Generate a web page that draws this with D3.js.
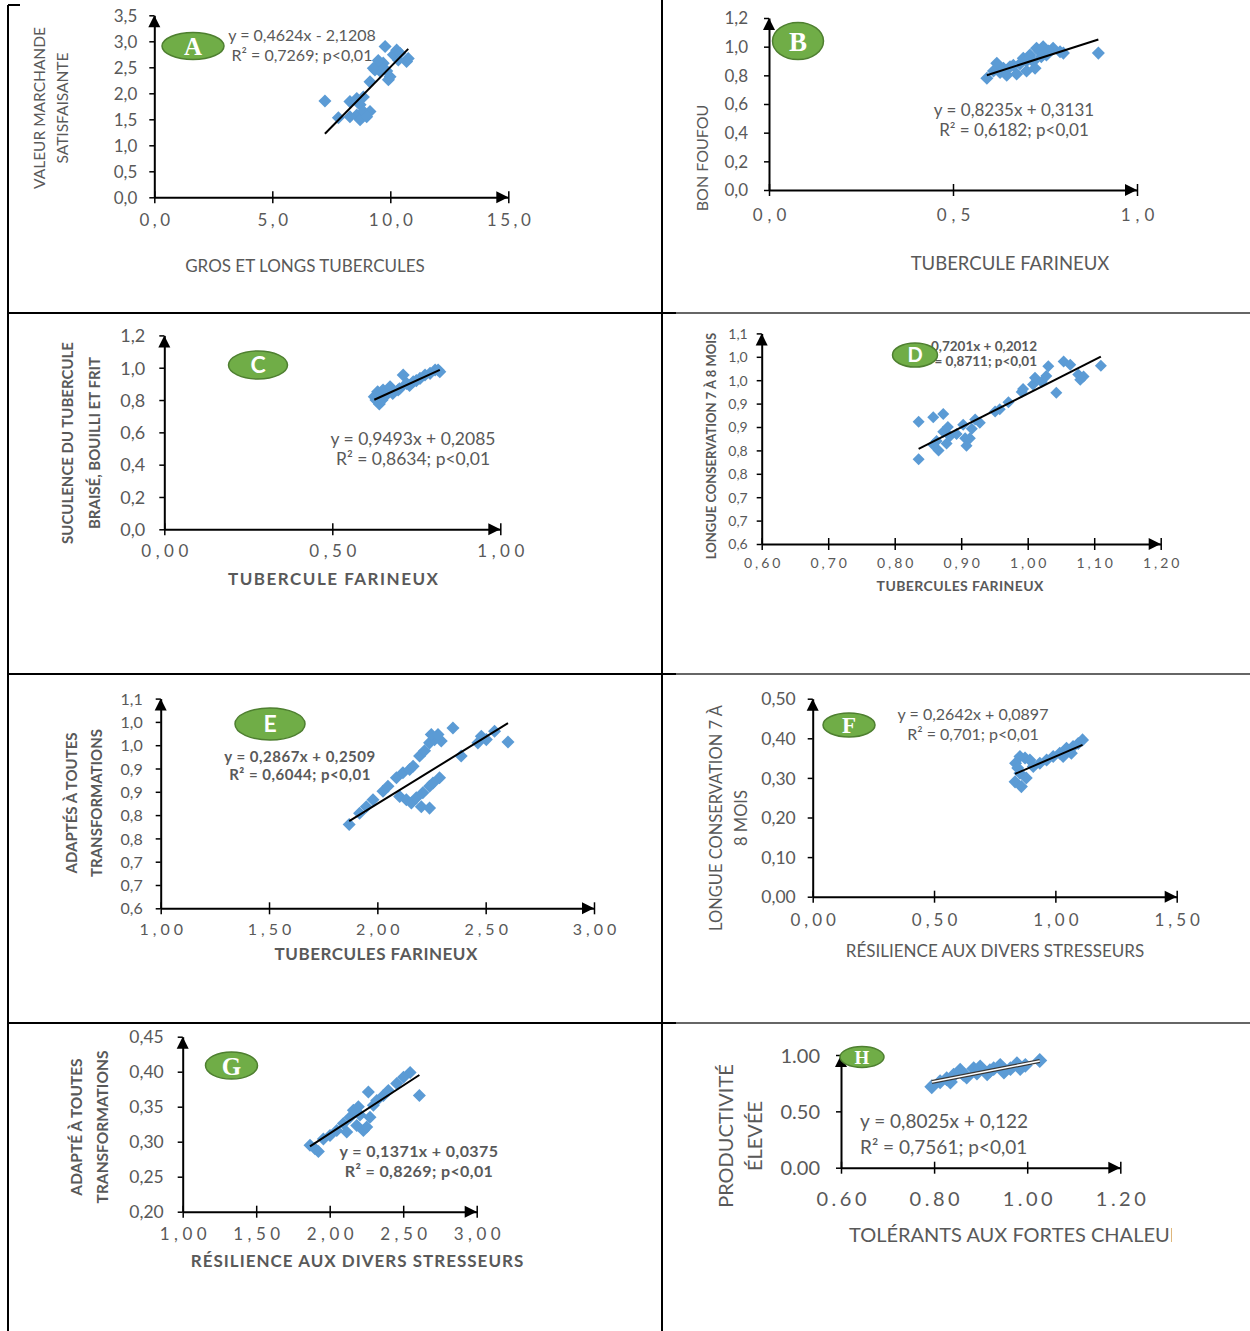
<!DOCTYPE html>
<html><head><meta charset="utf-8">
<script src="https://cdn.jsdelivr.net/npm/d3@7"></script>
<style>body{margin:0;background:#fff}svg{display:block}</style>
</head><body>
<svg id="fig" width="1250" height="1331"></svg>
<script>
// ---------- data: scatter points per panel ----------
const aX=[7.23,7.80,8.29,8.58,8.72,8.86,8.58,8.72,8.86,9.14,9.00,8.29,9.14,9.35,9.42,9.56,9.70,9.78,9.92,9.99,10.13,10.27,10.34,10.41,10.69,10.76,9.49,9.28,9.85];
const aY=[1.85,1.53,1.84,1.90,1.78,1.93,1.58,1.49,1.65,1.65,1.55,1.55,2.22,2.45,2.51,2.43,2.58,2.90,2.26,2.32,2.74,2.83,2.64,2.77,2.61,2.67,2.63,2.48,2.43];
const bX=[0.592,0.619,0.610,0.637,0.655,0.673,0.682,0.691,0.700,0.709,0.718,0.723,0.727,0.736,0.745,0.754,0.772,0.791,0.800,0.895,0.628,0.646,0.664,0.700,0.740,0.760];
const bY=[0.779,0.884,0.830,0.850,0.860,0.810,0.880,0.919,0.830,0.942,0.896,0.850,0.989,0.966,1.000,0.942,0.989,0.965,0.955,0.955,0.820,0.800,0.870,0.900,0.930,0.970];
const cX=[0.625,0.640,0.635,0.651,0.672,0.680,0.696,0.711,0.721,0.741,0.761,0.776,0.791,0.806,0.815,0.820,0.630,0.660,0.700,0.730,0.750,0.648];
const cY=[0.821,0.775,0.851,0.862,0.882,0.840,0.862,0.955,0.903,0.913,0.934,0.955,0.965,0.986,0.986,0.975,0.800,0.830,0.870,0.890,0.920,0.800];
const dX=[0.836,0.836,0.858,0.873,0.858,0.866,0.863,0.873,0.880,0.883,0.878,0.893,0.903,0.906,0.908,0.913,0.916,0.921,0.928,0.951,0.958,0.971,0.991,0.993,1.008,1.011,1.021,1.028,1.031,1.043,1.054,1.064,1.076,1.079,1.084,1.110];
const dY=[0.861,0.781,0.871,0.878,0.812,0.800,0.820,0.840,0.850,0.830,0.815,0.835,0.855,0.826,0.810,0.826,0.846,0.866,0.859,0.883,0.888,0.903,0.925,0.931,0.941,0.955,0.946,0.959,0.980,0.923,0.990,0.983,0.962,0.951,0.958,0.981];
const eX=[1.870,1.918,1.949,1.980,2.026,2.049,2.088,2.118,2.149,2.165,2.103,2.134,2.157,2.180,2.203,2.241,2.210,2.241,2.257,2.287,2.195,2.218,2.241,2.264,2.295,2.249,2.280,2.349,2.387,2.464,2.480,2.503,2.541,2.603];
const eY=[0.780,0.804,0.818,0.833,0.851,0.862,0.880,0.891,0.898,0.905,0.840,0.833,0.826,0.837,0.818,0.815,0.848,0.862,0.869,0.880,0.927,0.938,0.955,0.962,0.959,0.973,0.973,0.987,0.927,0.955,0.969,0.962,0.980,0.957];
const fX=[0.834,0.836,0.854,0.875,0.895,0.860,0.854,0.909,0.936,0.964,0.991,1.018,1.046,1.073,1.094,1.112,1.066,1.032,0.845,0.880];
const fY=[0.290,0.337,0.354,0.350,0.345,0.278,0.312,0.329,0.337,0.345,0.354,0.362,0.375,0.379,0.387,0.396,0.362,0.354,0.325,0.300];
const gX=[1.866,1.923,1.900,1.957,2.002,2.048,2.093,2.116,2.138,2.161,2.195,2.206,2.229,2.252,2.263,2.297,2.320,2.365,2.399,2.456,2.502,2.547,2.610,2.184,2.274];
const gY=[0.295,0.286,0.290,0.304,0.309,0.316,0.326,0.314,0.335,0.345,0.350,0.338,0.316,0.321,0.371,0.352,0.359,0.366,0.373,0.383,0.392,0.399,0.366,0.323,0.335];
const hX=[0.795,0.813,0.827,0.842,0.856,0.870,0.885,0.899,0.914,0.928,0.942,0.964,0.978,0.996,1.027,0.835,0.863,0.892,0.920,0.950,0.985];
const hY=[0.719,0.763,0.790,0.820,0.864,0.805,0.879,0.893,0.834,0.879,0.908,0.879,0.923,0.908,0.952,0.760,0.830,0.840,0.860,0.850,0.880];

// ---------- fitted lines (slope, intercept) and their labels ----------
const aFit=[0.4624,-2.1208], aEq=["y = 0,4624x - 2,1208","R² = 0,7269; p<0,01"];
const bFit=[0.8235,0.3131],  bEq=["y = 0,8235x + 0,3131","R² = 0,6182; p<0,01"];
const cFit=[0.9493,0.2085],  cEq=["y = 0,9493x + 0,2085","R² = 0,8634; p<0,01"];
const dFit=[0.7201,0.2012],  dEq=["y = 0,7201x + 0,2012","R² = 0,8711; p<0,01"];
const eFit=[0.2867,0.2509],  eEq=["y = 0,2867x + 0,2509","R² = 0,6044; p<0,01"];
const fFit=[0.2642,0.0897],  fEq=["y = 0,2642x + 0,0897","R² = 0,701; p<0,01"];
const gFit=[0.1371,0.0375],  gEq=["y = 0,1371x + 0,0375","R² = 0,8269; p<0,01"];
const hFit=[0.8025,0.122],   hEq=["y = 0,8025x + 0,122","R² = 0,7561; p<0,01"];

// ---------- ticks ----------
const aXTicks=[0,5,10,15], aXLab=["0,0","5,0","10,0","15,0"];
const aYTicks=[0,0.5,1,1.5,2,2.5,3,3.5], aYLab=["0,0","0,5","1,0","1,5","2,0","2,5","3,0","3,5"];
const bXTicks=[0,0.5,1], bXLab=["0,0","0,5","1,0"];
const bYTicks=[0,0.2,0.4,0.6,0.8,1,1.2], bYLab=["0,0","0,2","0,4","0,6","0,8","1,0","1,2"];
const cXTicks=[0,0.5,1], cXLab=["0,00","0,50","1,00"];
const cYTicks=[0,0.2,0.4,0.6,0.8,1,1.2], cYLab=["0,0","0,2","0,4","0,6","0,8","1,0","1,2"];
const dXTicks=[0.6,0.7,0.8,0.9,1.0,1.1,1.2], dXLab=["0,60","0,70","0,80","0,90","1,00","1,10","1,20"];
const dYTicks=[0.60,0.65,0.70,0.75,0.80,0.85,0.90,0.95,1.00,1.05], dYLab=["0,6","0,7","0,7","0,8","0,8","0,9","0,9","1,0","1,0","1,1"];
const eXTicks=[1,1.5,2,2.5,3], eXLab=["1,00","1,50","2,00","2,50","3,00"];
const eYTicks=[0.60,0.65,0.70,0.75,0.80,0.85,0.90,0.95,1.00,1.05], eYLab=["0,6","0,7","0,7","0,8","0,8","0,9","0,9","1,0","1,0","1,1"];
const fXTicks=[0,0.5,1,1.5], fXLab=["0,00","0,50","1,00","1,50"];
const fYTicks=[0,0.1,0.2,0.3,0.4,0.5], fYLab=["0,00","0,10","0,20","0,30","0,40","0,50"];
const gXTicks=[1,1.5,2,2.5,3], gXLab=["1,00","1,50","2,00","2,50","3,00"];
const gYTicks=[0.2,0.25,0.3,0.35,0.4,0.45], gYLab=["0,20","0,25","0,30","0,35","0,40","0,45"];
const hXTicks=[0.6,0.8,1.0,1.2], hXLab=["0.60","0.80","1.00","1.20"];
const hYTicks=[0,0.5,1.0], hYLab=["0.00","0.50","1.00"];

// ---------- drawing ----------
const svg=d3.select("#fig");
const GRAY="#595959", BLUE="#5B9BD5", GREEN="#70AD47", GREEN_DARK="#4E7F30";
const SANS="Lato, 'Open Sans', sans-serif", SERIF="'Liberation Serif', 'DejaVu Serif', serif";

// table frame
const frame=svg.append("g").attr("stroke","#000").attr("stroke-width",2);
frame.append("line").attr("x1",8).attr("y1",5).attr("x2",8).attr("y2",1331);
frame.append("line").attr("x1",662).attr("y1",0).attr("x2",662).attr("y2",1331);
frame.append("line").attr("x1",8).attr("y1",5).attr("x2",20).attr("y2",5);
[313,674,1023].forEach(yy=>{
  frame.append("line").attr("x1",8).attr("y1",yy).attr("x2",676).attr("y2",yy);
  frame.append("line").attr("x1",676).attr("y1",yy).attr("x2",1250).attr("y2",yy).attr("stroke","#333").attr("stroke-width",1.5);
});

function panel(p){
  const g=svg.append("g");
  const x=d3.scaleLinear().domain(p.xDom).range(p.xRng);
  const y=d3.scaleLinear().domain(p.yDom).range(p.yRng);
  const y0=y(p.yDom[0]), x0=x(p.xDom[0]);

  // x axis with crossing ticks
  const xa=d3.axisBottom(x).tickValues(p.xT).tickFormat((d,i)=>p.xL[i]).tickSizeInner(6).tickSizeOuter(0);
  const gx=g.append("g").attr("transform",`translate(0,${y0})`).call(xa)
    .attr("font-family",SANS).attr("font-size",p.xFs);
  gx.select(".domain").attr("stroke","#000").attr("stroke-width",2);
  gx.selectAll(".tick line").attr("stroke","#000").attr("stroke-width",1.5).attr("y1",-6);
  gx.selectAll(".tick text").attr("y",p.xOff).attr("dy","0.35em").attr("fill",GRAY)
    .style("letter-spacing",p.xLs+"px").attr("dx",(p.xLs/2)+"px");
  const xe=x(p.xDom[1]);
  g.append("path").attr("d",`M${xe},${y0}L${xe-12},${y0-6}L${xe-12},${y0+6}Z`).attr("fill","#000");

  // y axis
  const ya=d3.axisLeft(y).tickValues(p.yT).tickFormat((d,i)=>p.yL[i]).tickSizeInner(5).tickSizeOuter(0);
  const gy=g.append("g").attr("transform",`translate(${x0},0)`).call(ya)
    .attr("font-family",SANS).attr("font-size",p.yFs);
  gy.select(".domain").attr("stroke","#000").attr("stroke-width",2);
  gy.selectAll(".tick line").attr("stroke","#000").attr("stroke-width",1.5);
  gy.selectAll(".tick text").attr("x",-p.yOff).attr("dy","0.35em").attr("fill",GRAY);
  const ye=y(p.yDom[1]);
  g.append("path").attr("d",`M${x0},${ye}L${x0-6},${ye+12}L${x0+6},${ye+12}Z`).attr("fill","#000");

  // points
  const sym=d3.symbol().type(d3.symbolSquare).size(p.sz);
  g.append("g").selectAll("path").data(p.xs.map((v,i)=>[v,p.ys[i]])).join("path")
    .attr("d",sym).attr("fill",BLUE)
    .attr("transform",d=>`translate(${x(d[0])},${y(d[1])}) rotate(45)`);

  // fitted line over the data range
  const [lo,hi]=d3.extent(p.xs);
  const ln=[[lo,p.fit[0]*lo+p.fit[1]],[hi,p.fit[0]*hi+p.fit[1]]];
  const lineGen=d3.line().x(d=>x(d[0])).y(d=>y(d[1]));
  if(p.dbl){
    g.append("path").attr("d",lineGen(ln)).attr("stroke","#3a3a3a").attr("stroke-width",4).attr("fill","none");
    g.append("path").attr("d",lineGen(ln)).attr("stroke","#fff").attr("stroke-width",1.6).attr("fill","none");
  } else {
    g.append("path").attr("d",lineGen(ln)).attr("stroke","#000").attr("stroke-width",2).attr("fill","none");
  }

  // equation label
  const eq=g.append("g").attr("font-family",SANS).attr("font-size",p.eqFs)
    .attr("font-weight",p.eqBold?"bold":"normal").attr("fill",GRAY).attr("text-anchor",p.eqAnchor||"middle")
    .style("letter-spacing",(p.eqLs||0)+"px");
  p.eq.forEach((t,i)=>eq.append("text").attr("x",p.eqX).attr("y",p.eqY[i]).text(t));

  // panel badge
  g.append("ellipse").attr("cx",p.bx).attr("cy",p.by).attr("rx",p.brx).attr("ry",p.bry)
    .attr("fill",GREEN).attr("stroke",GREEN_DARK).attr("stroke-width",1.5);
  g.append("text").attr("x",p.bx).attr("y",p.by).attr("dy","0.36em").attr("text-anchor","middle")
    .attr("font-family",p.bSerif?SERIF:SANS).attr("font-weight","bold").attr("font-size",p.bFs)
    .attr("fill","#fff").text(p.badge);

  // axis titles
  const tw=p.tBold?"bold":"normal";
  p.yTitle.forEach((t,i)=>{
    g.append("text").attr("transform",`translate(${p.ytX[i]},${p.ytY}) rotate(-90)`)
      .attr("dy","0.35em").attr("text-anchor","middle").attr("font-family",SANS)
      .attr("font-size",p.ytFs).attr("font-weight",tw).attr("fill",GRAY).text(t);
  });
  const ls=p.xtLs||0;
  const xt=g.append("text").attr("x",p.xtX).attr("y",p.xtY).attr("dy","0.35em")
    .attr("dx",p.xtAnchor?0:ls/2).style("letter-spacing",ls+"px")
    .attr("text-anchor",p.xtAnchor||"middle").attr("font-family",SANS)
    .attr("font-size",p.xtFs).attr("font-weight",tw).attr("fill",GRAY).text(p.xTitle);
  if(p.clipX){
    svg.append("clipPath").attr("id","clipH").append("rect").attr("x",680).attr("y",1024).attr("width",p.clipX-680).attr("height",307);
    xt.attr("clip-path","url(#clipH)");
  }
}

// A
panel({xs:aX,ys:aY,fit:aFit,eq:aEq,xDom:[0,15],xRng:[154.3,508.3],yDom:[0,3.5],yRng:[197.3,15.3],
  xT:aXTicks,xL:aXLab,yT:aYTicks,yL:aYLab,xFs:17,xLs:3.5,xOff:23,yFs:17,yOff:17,sz:85,
  eqFs:16,eqX:302,eqY:[41,61],badge:"A",bx:193,by:46,brx:31,bry:13.5,bSerif:true,bFs:25,
  yTitle:["VALEUR MARCHANDE","SATISFAISANTE"],ytX:[40,63],ytY:108,ytFs:15.5,
  xTitle:"GROS ET LONGS TUBERCULES",xtX:305,xtY:266,xtFs:17});
// B
panel({xs:bX,ys:bY,fit:bFit,eq:bEq,xDom:[0,1],xRng:[769,1137],yDom:[0,1.2],yRng:[190,18],
  xT:bXTicks,xL:bXLab,yT:bYTicks,yL:bYLab,xFs:17,xLs:5,xOff:25,yFs:17,yOff:21,sz:85,
  eqFs:17,eqX:1014,eqY:[116,136],badge:"B",bx:798,by:41,brx:25.5,bry:18.5,bSerif:true,bFs:27,
  yTitle:["BON FOUFOU"],ytX:[702],ytY:158,ytFs:16,
  xTitle:"TUBERCULE FARINEUX",xtX:1010,xtY:264,xtFs:18.5});
// C
panel({xs:cX,ys:cY,fit:cFit,eq:cEq,xDom:[0,1],xRng:[164.3,500.3],yDom:[0,1.2],yRng:[529.3,335.4],
  xT:cXTicks,xL:cXLab,yT:cYTicks,yL:cYLab,xFs:17,xLs:4.5,xOff:22,yFs:18,yOff:19,sz:85,
  eqFs:17.5,eqX:413,eqY:[445,465],badge:"C",bx:258,by:365,brx:29.5,bry:14,bSerif:false,bFs:23,
  yTitle:["SUCULENCE  DU TUBERCULE","BRAISÉ, BOUILLI ET FRIT"],ytX:[68,95],ytY:443,ytFs:15,
  xTitle:"TUBERCULE FARINEUX",xtX:333,xtY:579,xtFs:17,xtLs:1.5,tBold:true});
// D
panel({xs:dX,ys:dY,fit:dFit,eq:dEq,xDom:[0.6,1.2],xRng:[761.7,1160.7],yDom:[0.6,1.05],yRng:[544,333.4],
  xT:dXTicks,xL:dXLab,yT:dYTicks,yL:dYLab,xFs:14,xLs:3,xOff:19,yFs:14,yOff:14,sz:72,
  eqFs:13.5,eqBold:true,eqAnchor:"end",eqX:1037,eqY:[351,366],badge:"D",bx:915,by:355,brx:22.5,bry:12,bSerif:false,bFs:20,
  yTitle:["LONGUE CONSERVATION 7 À 8 MOIS"],ytX:[711],ytY:446,ytFs:13,
  xTitle:"TUBERCULES FARINEUX",xtX:960,xtY:586,xtFs:14,xtLs:0.4,tBold:true});
// E
panel({xs:eX,ys:eY,fit:eFit,eq:eEq,xDom:[1,3],xRng:[160.7,594],yDom:[0.6,1.05],yRng:[908.3,698.6],
  xT:eXTicks,xL:eXLab,yT:eYTicks,yL:eYLab,xFs:16,xLs:4,xOff:21,yFs:16,yOff:18,sz:85,
  eqFs:15,eqLs:0.5,eqBold:true,eqX:300,eqY:[762,780],badge:"E",bx:270,by:724,brx:35,bry:16,bSerif:false,bFs:23,
  yTitle:["ADAPTÉS À TOUTES","TRANSFORMATIONS"],ytX:[72,97],ytY:803,ytFs:15,
  xTitle:"TUBERCULES FARINEUX",xtX:376,xtY:954,xtFs:17,xtLs:0.5,tBold:true});
// F
panel({xs:fX,ys:fY,fit:fFit,eq:fEq,xDom:[0,1.5],xRng:[812.7,1176.7],yDom:[0,0.5],yRng:[896.7,698.7],
  xT:fXTicks,xL:fXLab,yT:fYTicks,yL:fYLab,xFs:17,xLs:4,xOff:23,yFs:17.5,yOff:17,sz:85,
  eqFs:16,eqX:973,eqY:[720,740],badge:"F",bx:849,by:725,brx:26,bry:12,bSerif:true,bFs:23,
  yTitle:["LONGUE CONSERVATION 7 À","8 MOIS"],ytX:[716,741],ytY:818,ytFs:16.5,
  xTitle:"RÉSILIENCE AUX DIVERS STRESSEURS",xtX:995,xtY:951,xtFs:17});
// G
panel({xs:gX,ys:gY,fit:gFit,eq:gEq,xDom:[1,3],xRng:[182.7,476.7],yDom:[0.2,0.45],yRng:[1211.7,1036.7],
  xT:gXTicks,xL:gXLab,yT:gYTicks,yL:gYLab,xFs:17,xLs:4.5,xOff:22,yFs:17.5,yOff:19,sz:85,
  eqFs:16,eqLs:0.4,eqBold:true,eqX:419,eqY:[1157,1177],badge:"G",bx:231.5,by:1065.5,brx:26,bry:13.5,bSerif:true,bFs:25,
  yTitle:["ADAPTÉ À TOUTES","TRANSFORMATIONS"],ytX:[77,103],ytY:1127,ytFs:15.5,
  xTitle:"RÉSILIENCE AUX DIVERS STRESSEURS",xtX:357,xtY:1261,xtFs:17,xtLs:1,tBold:true});
// H
panel({xs:hX,ys:hY,fit:hFit,eq:hEq,xDom:[0.6,1.2],xRng:[841,1120.3],yDom:[0,1.0],yRng:[1167.7,1055],
  xT:hXTicks,xL:hXLab,yT:hYTicks,yL:hYLab,xFs:20,xLs:3.5,xOff:31,yFs:20,yOff:21,sz:112,dbl:true,
  eqFs:19,eqAnchor:"start",eqX:860,eqY:[1128,1154],badge:"H",bx:862,by:1057,brx:22,bry:10.5,bSerif:true,bFs:19,
  yTitle:["PRODUCTIVITÉ","ÉLEVÉE"],ytX:[726,755],ytY:1136,ytFs:20,
  xTitle:"TOLÉRANTS AUX FORTES CHALEURS",xtX:849,xtY:1235,xtFs:20,xtAnchor:"start",clipX:1172});
</script>
</body></html>
